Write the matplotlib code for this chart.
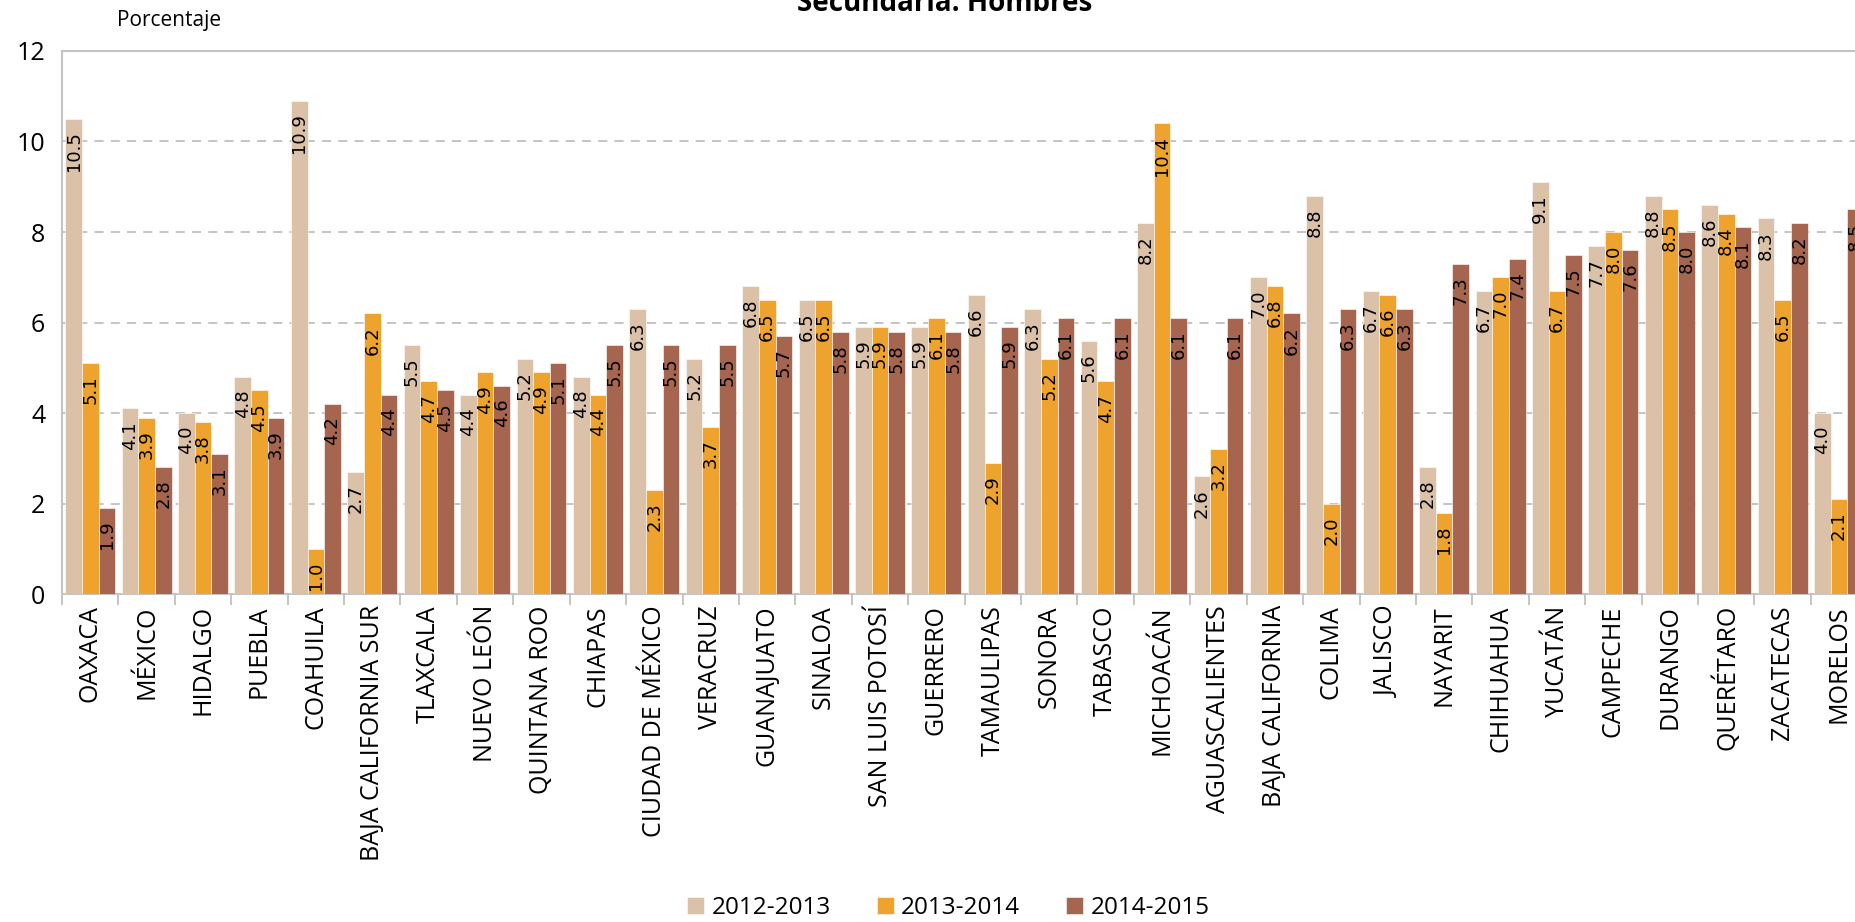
import numpy as np
import matplotlib.pyplot as plt

estados = ["OAXACA", "MÉXICO", "HIDALGO", "PUEBLA", "COAHUILA", "BAJA CALIFORNIA SUR",
           "TLAXCALA", "NUEVO LEÓN", "QUINTANA ROO", "CHIAPAS", "CIUDAD DE MÉXICO",
           "VERACRUZ", "GUANAJUATO", "SINALOA", "SAN LUIS POTOSÍ", "GUERRERO",
           "TAMAULIPAS", "SONORA", "TABASCO", "MICHOACÁN", "AGUASCALIENTES",
           "BAJA CALIFORNIA", "COLIMA", "JALISCO", "NAYARIT", "CHIHUAHUA", "YUCATÁN",
           "CAMPECHE", "DURANGO", "QUERÉTARO", "ZACATECAS", "MORELOS"]

ciclo_2012_2013 = [10.5, 4.1, 4.0, 4.8, 10.9, 2.7, 5.5, 4.4, 5.2, 4.8, 6.3, 5.2, 6.8, 6.5,
                   5.9, 5.9, 6.6, 6.3, 5.6, 8.2, 2.6, 7.0, 8.8, 6.7, 2.8, 6.7, 9.1, 7.7,
                   8.8, 8.6, 8.3, 4.0]
ciclo_2013_2014 = [5.1, 3.9, 3.8, 4.5, 1.0, 6.2, 4.7, 4.9, 4.9, 4.4, 2.3, 3.7, 6.5, 6.5,
                   5.9, 6.1, 2.9, 5.2, 4.7, 10.4, 3.2, 6.8, 2.0, 6.6, 1.8, 7.0, 6.7, 8.0,
                   8.5, 8.4, 6.5, 2.1]
ciclo_2014_2015 = [1.9, 2.8, 3.1, 3.9, 4.2, 4.4, 4.5, 4.6, 5.1, 5.5, 5.5, 5.5, 5.7, 5.8,
                   5.8, 5.8, 5.9, 6.1, 6.1, 6.1, 6.1, 6.2, 6.3, 6.3, 7.3, 7.4, 7.5, 7.6,
                   8.0, 8.1, 8.2, 8.5]

series = [("2012-2013", ciclo_2012_2013, "#dbc1a7"),
          ("2013-2014", ciclo_2013_2014, "#efa32f"),
          ("2014-2015", ciclo_2014_2015, "#a6654f")]

fuente = "Open Sans"

fig = plt.figure(figsize=(18.56, 9.22), dpi=100)
ax = fig.add_axes([0.0334, 0.3557, 0.9666, 0.589])

x = np.arange(len(estados))
ancho = 0.295
for k, (nombre, valores, color) in enumerate(series):
    pos = x + (k - 1) * ancho
    ax.bar(pos, valores, ancho, color=color, label=nombre,
           edgecolor="white", linewidth=0.4, zorder=3)
    for xi, v in zip(pos, valores):
        ax.annotate(f"{v:.1f}", (xi, v), xytext=(0, -9), textcoords="offset points",
                    rotation=90, ha="center", va="top", fontsize=13,
                    family="DejaVu Sans", zorder=4, annotation_clip=False)

ax.set_yticks(range(0, 13, 2))
ax.yaxis.grid(True, linestyle=(0, (5, 4)), color="#bfbfbf", linewidth=1.3, zorder=0)
ax.set_axisbelow(True)

ax.set_xticks(x)
ax.set_xticklabels(estados, rotation=90, fontsize=18, family=fuente)
ax.set_xticks(np.arange(-0.5, len(estados), 1), minor=True)
ax.tick_params(axis="x", which="major", length=0, pad=8)
ax.tick_params(axis="x", which="minor", length=8, color="#bfbfbf", width=1.3)
ax.tick_params(axis="y", length=0, labelsize=18, pad=12)
for lab in ax.get_yticklabels():
    lab.set_family(fuente)

# limites despues de los ticks (set_xticks amplia la vista)
ax.set_ylim(0, 12)
ax.set_xlim(-0.5, 31.3)

for lado in ["left", "bottom", "top"]:
    ax.spines[lado].set_color("#c4c4c4")
    ax.spines[lado].set_linewidth(1.5)
ax.spines["right"].set_visible(False)

fig.text(0.063, 0.978, "Porcentaje", fontsize=15, family=fuente, va="center")
fig.text(0.509, 0.988, "Secundaria. Hombres", fontsize=20, fontweight="bold",
         family=fuente, ha="center", va="baseline")

fig.legend(loc="center", bbox_to_anchor=(0.511, 0.015), ncol=3, frameon=False,
           prop={"family": fuente, "size": 17.5}, handlelength=0.7, handleheight=0.7,
           handletextpad=0.3, columnspacing=1.9)

fig.savefig("out.png", dpi=100)
